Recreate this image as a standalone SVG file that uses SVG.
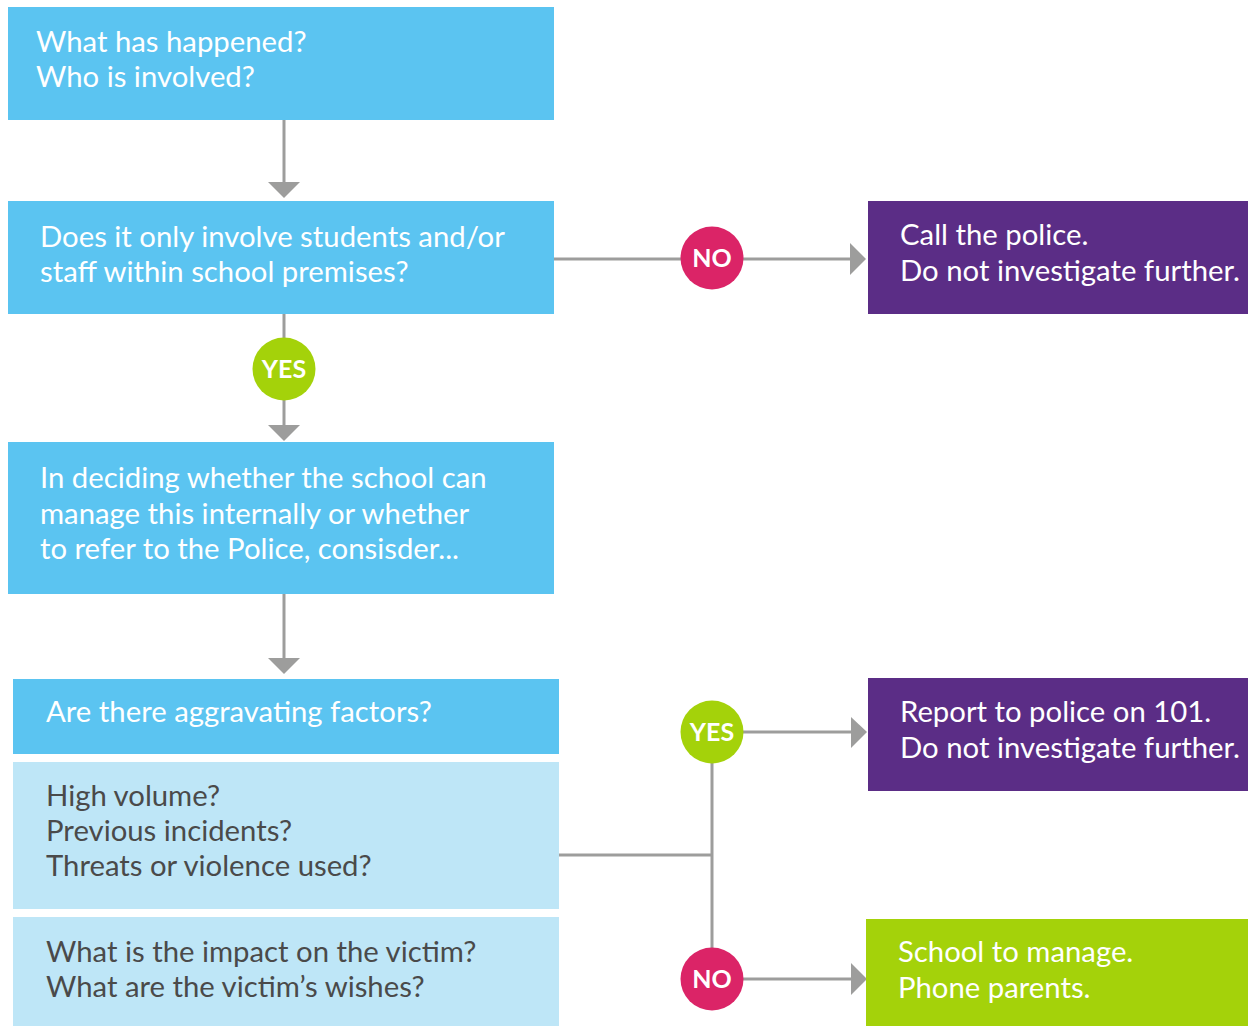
<svg xmlns="http://www.w3.org/2000/svg" width="1248" height="1026" viewBox="0 0 1248 1026">
<defs>
<style>
.t{font-family:Lato,"Open Sans",sans-serif;font-size:29.3px;fill:#fff}
.d{fill:#4a4a4a}
.b{fill:#5BC4F1}
.lb{fill:#BEE6F7}
.p{fill:#5B2D86}
.g{fill:#A4D20A}
.ln{stroke:#9D9D9C;stroke-width:3;fill:none}
.ah{fill:#9D9D9C}
.c{font-family:Lato,"Open Sans",sans-serif;font-size:25px;font-weight:bold;fill:#fff;text-anchor:middle}
.no{fill:#DB2467}
.yes{fill:#A4D20A}
</style>
</defs>
<rect width="1248" height="1026" fill="#fff"/>
<g id="connectors">
<line class="ln" x1="284" y1="120" x2="284" y2="184"/>
<polygon class="ah" points="268,182 300,182 284,198"/>
<line class="ln" x1="554" y1="259" x2="852" y2="259"/>
<polygon class="ah" points="850,243 850,275 866,259"/>
<line class="ln" x1="284" y1="314" x2="284" y2="427"/>
<polygon class="ah" points="268,425 300,425 284,441"/>
<line class="ln" x1="284" y1="594" x2="284" y2="660"/>
<polygon class="ah" points="268,658 300,658 284,674"/>
<line class="ln" x1="559" y1="855" x2="712" y2="855"/>
<line class="ln" x1="712" y1="732" x2="712" y2="979"/>
<line class="ln" x1="712" y1="732" x2="852" y2="732"/>
<polygon class="ah" points="851,717 851,748 867,732"/>
<line class="ln" x1="712" y1="979" x2="852" y2="979"/>
<polygon class="ah" points="851,963 851,995 867,979"/>
</g>
<g id="n1"><rect class="b" x="8" y="7" width="546" height="113"/>
<text class="t" x="36" y="52">What has happened?</text><text class="t" x="36" y="87">Who is involved?</text></g>
<g id="n2"><rect class="b" x="8" y="201" width="546" height="113"/>
<text class="t" x="40" y="247">Does it only involve students and/or</text><text class="t" x="40" y="282">staff within school premises?</text></g>
<g id="n3"><rect class="p" x="868" y="201" width="380" height="113"/>
<text class="t" x="900" y="245">Call the police.</text><text class="t" x="900" y="281">Do not investigate further.</text></g>
<g id="n4"><rect class="b" x="8" y="442" width="546" height="152"/>
<text class="t" x="40" y="488">In deciding whether the school can</text><text class="t" x="40" y="524">manage this internally or whether</text><text class="t" x="40" y="559">to refer to the Police, consisder...</text></g>
<g id="n5"><rect class="b" x="13" y="679" width="546" height="75"/>
<text class="t" x="46" y="722">Are there aggravating factors?</text></g>
<g id="n6"><rect class="lb" x="13" y="762" width="546" height="147"/>
<text class="t d" x="46" y="806">High volume?</text><text class="t d" x="46" y="841">Previous incidents?</text><text class="t d" x="46" y="876">Threats or violence used?</text></g>
<g id="n7"><rect class="lb" x="13" y="917" width="546" height="109"/>
<text class="t d" x="46" y="962">What is the impact on the victim?</text><text class="t d" x="46" y="997">What are the victim’s wishes?</text></g>
<g id="n8"><rect class="p" x="868" y="678" width="380" height="113"/>
<text class="t" x="900" y="722">Report to police on 101.</text><text class="t" x="900" y="758">Do not investigate further.</text></g>
<g id="n9"><rect class="g" x="866" y="919" width="382" height="107"/>
<text class="t" x="898" y="962">School to manage.</text><text class="t" x="898" y="998">Phone parents.</text></g>
<g id="c1"><circle class="no" cx="712" cy="258" r="31.5"/><text class="c" x="712" y="267">NO</text></g>
<g id="c2"><circle class="yes" cx="284" cy="369" r="31.5"/><text class="c" x="284" y="378">YES</text></g>
<g id="c3"><circle class="yes" cx="712" cy="732" r="31.5"/><text class="c" x="712" y="741">YES</text></g>
<g id="c4"><circle class="no" cx="712" cy="979" r="31.5"/><text class="c" x="712" y="988">NO</text></g>
</svg>
